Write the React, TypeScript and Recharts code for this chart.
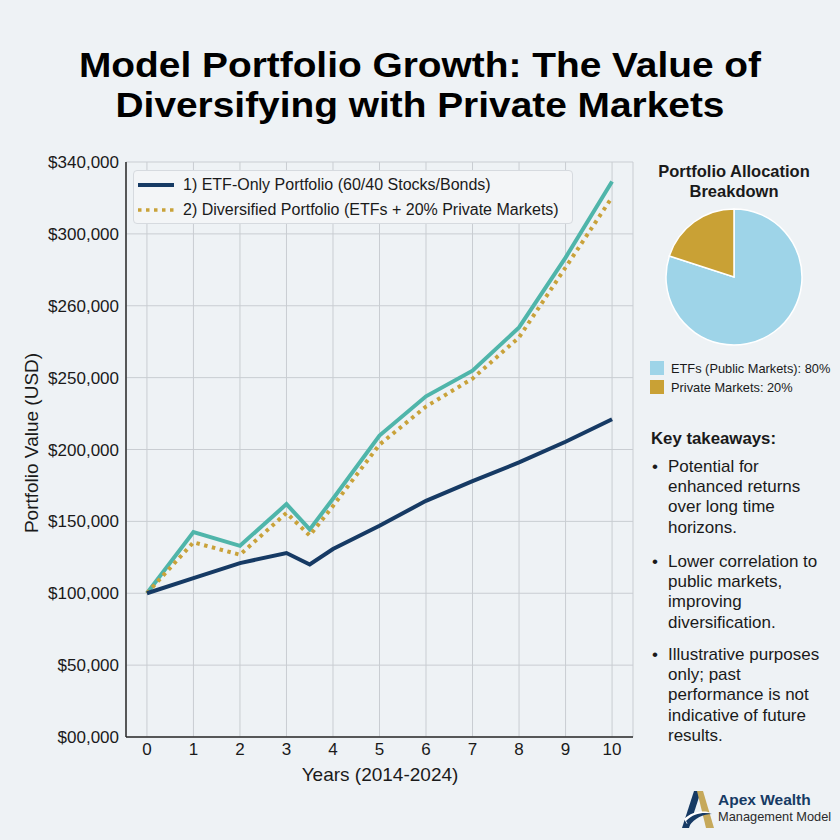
import React from "react";
import {
  CartesianGrid,
  Line,
  LineChart,
  Pie,
  PieChart,
  Cell,
  XAxis,
  YAxis,
} from "recharts";

// values; y is in the chart's own (evenly spaced) tick units
const YEARS = [0, 1, 2, 3, 3.5, 4, 5, 6, 7, 8, 9, 10];
const ETF_ONLY = [100000, 110500, 121000, 128000, 120000, 130800, 147000, 164300, 178000, 191000, 205400, 221000];
const PRIVATE_PATH = [100000, 142500, 133000, 162000, 144400, 165700, 209700, 237000, 254800, 284900, 333500, 386400];
const DIVERSIFIED = [100000, 135400, 126800, 155900, 140100, 160700, 203400, 229900, 249300, 278000, 326600, 375500];

const X_TICKS = [0, 1, 2, 3, 4, 5, 6, 7, 8, 9, 10];
const Y_TICKS = [0, 50000, 100000, 150000, 200000, 250000, 300000, 350000, 400000];
const Y_TICK_LABELS = [
  "$00,000",
  "$50,000",
  "$100,000",
  "$150,000",
  "$200,000",
  "$250,000",
  "$260,000",
  "$300,000",
  "$340,000",
];

const LEGEND_LABELS = [
  "1) ETF-Only Portfolio (60/40 Stocks/Bonds)",
  "2) Diversified Portfolio (ETFs + 20% Private Markets)",
];

const ALLOC_NAMES = ["ETFs (Public Markets): 80%", "Private Markets: 20%"];
const ALLOC_VALUES = [80, 20];

const TAKEAWAYS = [
  ["Potential for", "enhanced returns", "over long time", "horizons."],
  ["Lower correlation to", "public markets,", "improving", "diversification."],
  ["Illustrative purposes", "only; past", "performance is not", "indicative of future", "results."],
];

const TITLE_LINES = ["Model Portfolio Growth: The Value of", "Diversifying with Private Markets"];

const COLORS = {
  bg: "#eef2f5",
  navy: "#163a64",
  teal: "#4fb5aa",
  gold: "#c9a23a",
  etf: "#9ed4e8",
  priv: "#c9a135",
  grid: "#c9cdd2",
  axis: "#2a2a2a",
  text: "#1a1a1a",
};

const FONT = '"Liberation Sans", Arial, sans-serif';

const data = YEARS.map((year, i) => ({
  year,
  etf: ETF_ONLY[i],
  path: PRIVATE_PATH[i],
  div: DIVERSIFIED[i],
}));

const allocData = ALLOC_NAMES.map((name, i) => ({ name, value: ALLOC_VALUES[i] }));
const ALLOC_COLORS = [COLORS.etf, COLORS.priv];

function Logo() {
  return (
    <svg width={32} height={38} viewBox="0 0 32 38" style={{ position: "absolute", left: 682, top: 791 }}>
      <polygon points="12,0 19,0 7,37 0,37" fill={COLORS.navy} />
      <polygon points="15,0 21,0 32,37 24,37" fill="#c6a95a" />
      <path d="M2,28 C10,20 22,19 31,22 C22,21 12,24 5,33 Z" fill="#ffffff" />
      <path d="M4,30 C12,22 22,21 30,23 C21,23 13,27 7,35 Z" fill={COLORS.navy} />
    </svg>
  );
}

export default function App() {
  return (
    <div
      style={{
        position: "absolute",
        left: 0,
        top: 0,
        width: 840,
        height: 840,
        background: COLORS.bg,
        fontFamily: FONT,
        color: COLORS.text,
        overflow: "hidden",
      }}
    >
      {TITLE_LINES.map((t, i) => (
        <div
          key={t}
          style={{
            position: "absolute",
            left: 0,
            top: 45 + i * 40,
            width: 840,
            textAlign: "center",
            fontSize: 35,
            fontWeight: 700,
            lineHeight: "40px",
            color: "#000",
            transform: "scaleX(1.11)",
            whiteSpace: "nowrap",
          }}
        >
          {t}
        </div>
      ))}

      <div style={{ position: "absolute", left: 0, top: 140 }}>
        <LineChart width={650} height={680} data={data} margin={{ top: 22, right: 17, bottom: 23, left: 0 }}>
          <CartesianGrid stroke={COLORS.grid} strokeWidth={1} />
          <XAxis
            dataKey="year"
            type="number"
            domain={[-0.45, 10.45]}
            ticks={X_TICKS}
            tickLine={false}
            tickSize={0}
            tickMargin={6}
            height={60}
            axisLine={{ stroke: COLORS.axis, strokeWidth: 1.5 }}
            tick={{ fill: COLORS.text, fontSize: 17, fontFamily: FONT }}
          />
          <YAxis
            type="number"
            domain={[0, 400000]}
            ticks={Y_TICKS}
            width={126}
            tickLine={false}
            tickSize={0}
            tickMargin={7}
            axisLine={{ stroke: COLORS.axis, strokeWidth: 1.5 }}
            tickFormatter={(v: number) => Y_TICK_LABELS[Y_TICKS.indexOf(v)] ?? ""}
            tick={{ fill: COLORS.text, fontSize: 17, fontFamily: FONT }}
          />
          <Line
            dataKey="path"
            stroke={COLORS.teal}
            strokeWidth={4}
            dot={false}
            isAnimationActive={false}
          />
          <Line
            dataKey="div"
            stroke={COLORS.gold}
            strokeWidth={4}
            strokeDasharray="3.5 4.5"
            dot={false}
            isAnimationActive={false}
          />
          <Line
            dataKey="etf"
            stroke={COLORS.navy}
            strokeWidth={4}
            dot={false}
            isAnimationActive={false}
          />
        </LineChart>
      </div>

      {/* legend box over the plot */}
      <div
        style={{
          position: "absolute",
          left: 133,
          top: 170,
          width: 440,
          height: 54,
          background: "#f3f5f7",
          border: "1px solid #d6dadf",
          borderRadius: 4,
          boxSizing: "border-box",
        }}
      >
        {LEGEND_LABELS.map((label, i) => (
          <div
            key={label}
            style={{
              position: "absolute",
              left: 3,
              top: 3 + i * 25,
              height: 22,
              display: "flex",
              alignItems: "center",
              fontSize: 16,
              whiteSpace: "nowrap",
            }}
          >
            <svg width={40} height={10}>
              <line
                x1={1}
                y1={5}
                x2={37}
                y2={5}
                stroke={i === 0 ? COLORS.navy : COLORS.gold}
                strokeWidth={i === 0 ? 4 : 3.5}
                strokeDasharray={i === 0 ? undefined : "3.5 4.5"}
              />
            </svg>
            <span style={{ marginLeft: 6 }}>{label}</span>
          </div>
        ))}
      </div>

      {/* axis titles */}
      <div
        style={{
          position: "absolute",
          left: 32,
          top: 443,
          transform: "translate(-50%, -50%) rotate(-90deg)",
          fontSize: 19,
          whiteSpace: "nowrap",
        }}
      >
        Portfolio Value (USD)
      </div>
      <div
        style={{
          position: "absolute",
          left: 380,
          top: 775,
          transform: "translate(-50%, -50%)",
          fontSize: 19,
          whiteSpace: "nowrap",
        }}
      >
        Years (2014-2024)
      </div>

      {/* allocation pie */}
      <div
        style={{
          position: "absolute",
          left: 640,
          top: 161,
          width: 188,
          textAlign: "center",
          fontSize: 16.5,
          fontWeight: 700,
          lineHeight: "20px",
        }}
      >
        Portfolio Allocation
        <br />
        Breakdown
      </div>
      <div style={{ position: "absolute", left: 659, top: 202 }}>
        <PieChart width={150} height={150} margin={{ top: 0, right: 0, bottom: 0, left: 0 }}>
          <Pie
            data={allocData}
            dataKey="value"
            cx={75}
            cy={75}
            outerRadius={68}
            startAngle={90}
            endAngle={-270}
            stroke="#ffffff"
            strokeWidth={1.5}
            isAnimationActive={false}
          >
            {allocData.map((d, i) => (
              <Cell key={d.name} fill={ALLOC_COLORS[i]} />
            ))}
          </Pie>
        </PieChart>
      </div>
      {ALLOC_NAMES.map((name, i) => (
        <div
          key={name}
          style={{
            position: "absolute",
            left: 650,
            top: 360 + i * 19,
            height: 16,
            display: "flex",
            alignItems: "center",
            fontSize: 12.8,
            whiteSpace: "nowrap",
          }}
        >
          <span style={{ width: 14, height: 14, background: ALLOC_COLORS[i], display: "inline-block" }} />
          <span style={{ marginLeft: 7 }}>{name}</span>
        </div>
      ))}

      {/* takeaways */}
      <div style={{ position: "absolute", left: 651, top: 429, fontSize: 16.8, fontWeight: 700, whiteSpace: "nowrap" }}>
        Key takeaways:
      </div>
      {TAKEAWAYS.map((lines, i) => (
        <div
          key={i}
          style={{
            position: "absolute",
            left: 652,
            top: [457, 552, 645][i],
            fontSize: 17,
            lineHeight: "20.2px",
            whiteSpace: "nowrap",
          }}
        >
          <span style={{ position: "absolute", left: 0, top: 0 }}>•</span>
          <div style={{ marginLeft: 16 }}>
            {lines.map((l) => (
              <div key={l}>{l}</div>
            ))}
          </div>
        </div>
      ))}

      <Logo />
      <div style={{ position: "absolute", left: 718, top: 791, fontSize: 15.5, fontWeight: 700, color: COLORS.navy, whiteSpace: "nowrap" }}>
        Apex Wealth
      </div>
      <div style={{ position: "absolute", left: 718, top: 809, fontSize: 12.8, color: "#2b2b2b", whiteSpace: "nowrap" }}>
        Management Model
      </div>
    </div>
  );
}
